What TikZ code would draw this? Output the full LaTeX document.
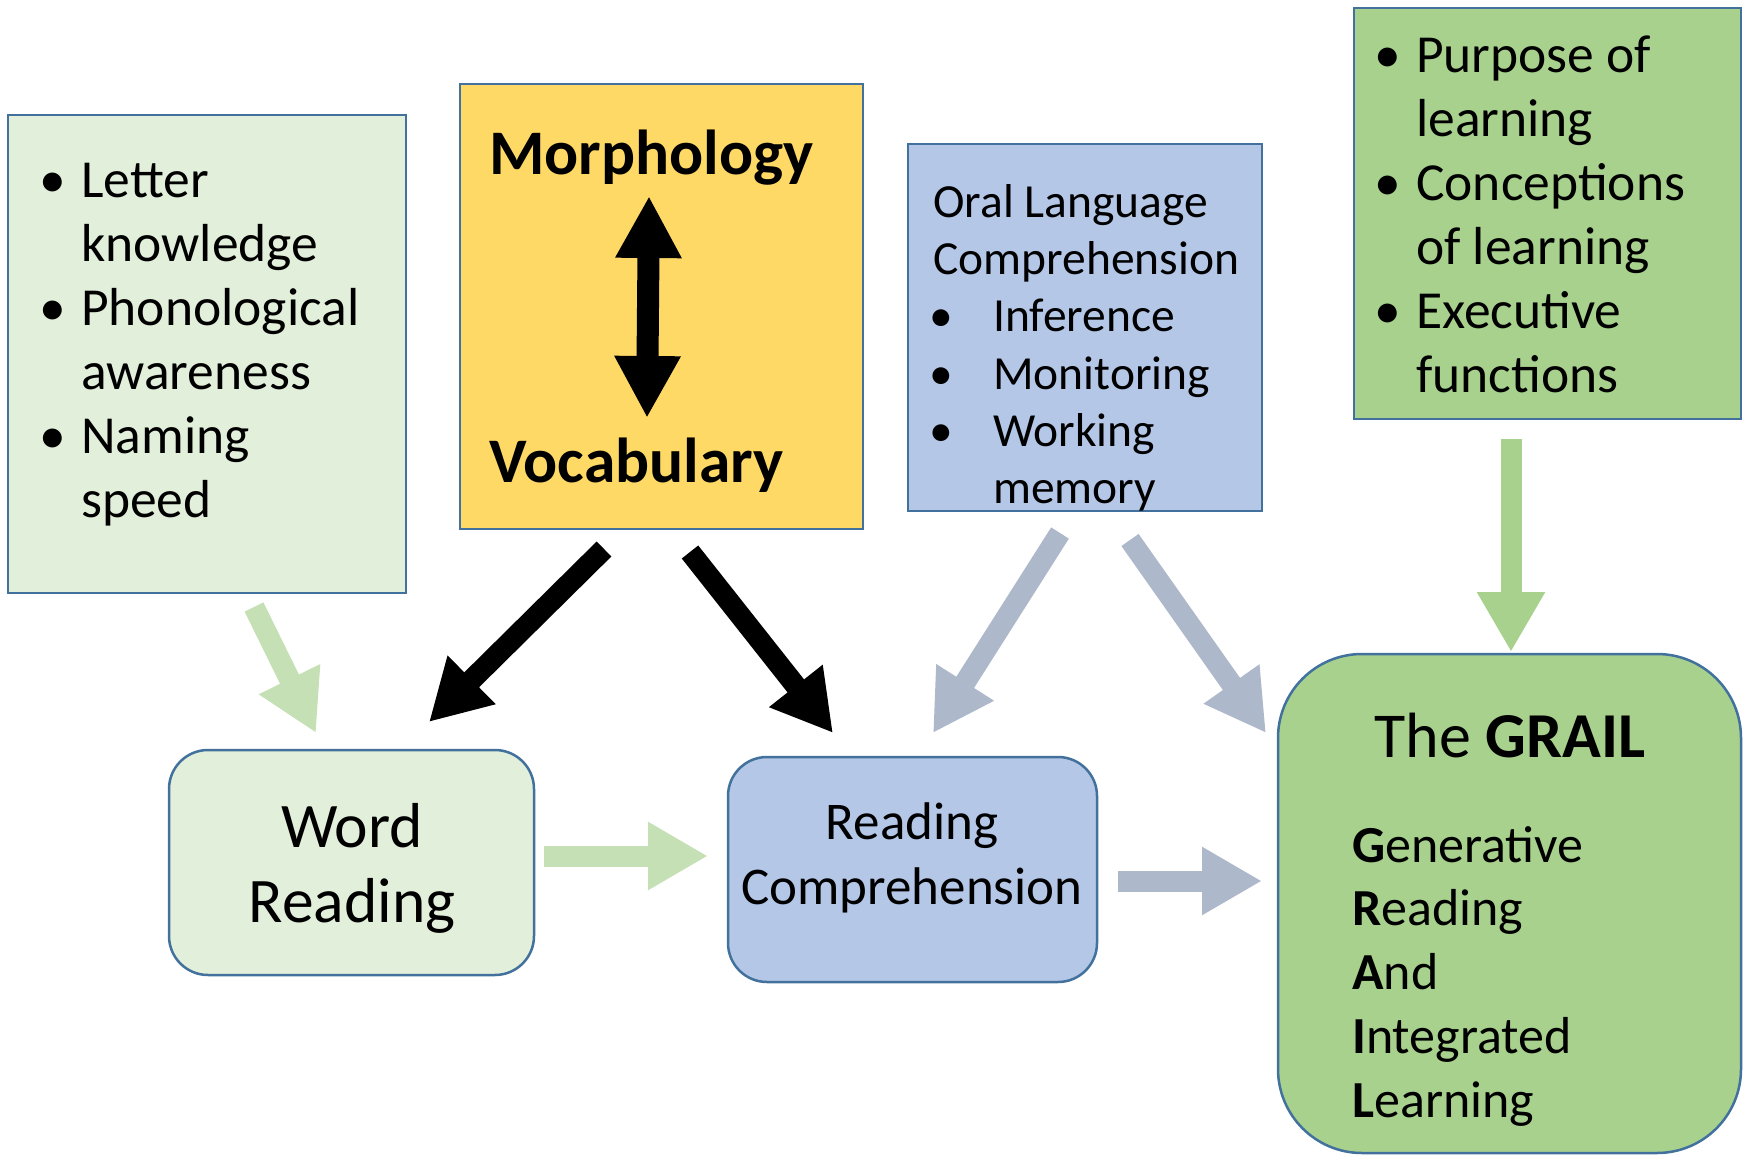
\documentclass[tikz,border=0pt]{standalone}
\usepackage{fontspec}
\setmainfont{Carlito}
\usetikzlibrary{arrows.meta}
\definecolor{bord}{HTML}{41719C}
\definecolor{lgreen}{HTML}{E2EFDA}
\definecolor{yell}{HTML}{FFD966}
\definecolor{lblue}{HTML}{B4C7E7}
\definecolor{mgreen}{HTML}{A9D18E}
\definecolor{agreen}{HTML}{C5E0B4}
\definecolor{agray}{HTML}{ADB9CA}
\begin{document}
\begin{tikzpicture}[x=1pt,y=-1pt,
  box/.style={draw=bord, line width=2.5pt, anchor=north west, inner sep=0pt, outer sep=0pt},
  rbox/.style={box, rounded corners=39pt},
  tl/.style={anchor=base west, inner sep=0pt},
  tc/.style={anchor=base, inner sep=0pt},
  fA/.style={font=\fontsize{53.5pt}{64pt}\selectfont},
  fB/.style={font=\fontsize{63.5pt}{76pt}\selectfont\bfseries},
  fC/.style={font=\fontsize{47.5pt}{57pt}\selectfont},
  fWR/.style={font=\fontsize{63.5pt}{76pt}\selectfont},
  fRC/.style={font=\fontsize{53pt}{64pt}\selectfont},
  fG/.style={font=\fontsize{64pt}{76pt}\selectfont},
  fGa/.style={font=\fontsize{52pt}{64pt}\selectfont},
  blk/.style={line width=21pt, -{Triangle[length=60pt,width=64pt]}},
  blkd/.style={line width=22pt, {Triangle[length=62pt,width=62pt]}-{Triangle[length=62pt,width=62pt]}}
]
\useasboundingbox (0,0) rectangle (1750,1155);

% boxes
\node[box, fill=lgreen, minimum width=398pt, minimum height=478pt] (b1) at (8,115) {};
\node[box, fill=yell, minimum width=403pt, minimum height=445pt] (b2) at (460,84) {};
\node[box, fill=lblue, minimum width=354pt, minimum height=367pt] (b3) at (908,144) {};
\node[box, fill=mgreen, minimum width=387pt, minimum height=411pt] (b4) at (1354,8) {};
\node[rbox, fill=lgreen, minimum width=365pt, minimum height=225pt] (wr) at (169,750) {};
\node[rbox, fill=lblue, minimum width=369pt, minimum height=225pt] (rc) at (728,757) {};
\node[box, rounded corners=84pt, fill=mgreen, minimum width=463pt, minimum height=499pt] (gr) at (1278,654) {};

% box 1 text
\foreach \t [count=\i from 0] in {Letter, knowledge, Phonological, awareness, Naming, speed}
  \node[tl, fA] (b1t\i) at (81,{198+63.8*\i}) {\t};
\foreach \i in {0,2,4}
  \node[tc, fA] (b1b\i) at (53,{198+63.8*\i}) {\textbullet};

% box 2 text
\node[tl, fB] (morph) at (489,175) {Morphology};
\node[tl, fB] (vocab) at (489,482) {Vocabulary};
\coordinate (dtop) at (649,196);
\coordinate (dbot) at (647,418);
\draw[blkd, black] (dbot) -- (dtop);

% box 3 text
\node[tl, fC] (b3t0) at (933,218) {Oral Language};
\node[tl, fC] (b3t1) at (933,275) {Comprehension};
\foreach \t [count=\i from 2] in {Inference, Monitoring, Working, memory}
  \node[tl, fC] (b3t\i) at (993,{218+57*\i}) {\t};
\foreach \i in {2,3,4}
  \node[tc, fC] (b3b\i) at (941,{218+57*\i}) {\textbullet};

% box 4 text
\foreach \t [count=\i from 0] in {Purpose of, learning, Conceptions, of learning, Executive, functions}
  \node[tl, fA] (b4t\i) at (1416,{73+63.8*\i}) {\t};
\foreach \i in {0,2,4}
  \node[tc, fA] (b4b\i) at (1388,{73+63.8*\i}) {\textbullet};

% word reading
\node[tc, fWR] (wr1) at (352,847) {Word};
\node[tc, fWR] (wr2) at (352,922) {Reading};
% reading comprehension
\node[tc, fRC] (rc1) at (912,839) {Reading};
\node[tc, fRC] (rc2) at (912,904) {Comprehension};
% grail
\node[tc, fG] (g0) at (1510,757) {The \textbf{GRAIL}};
\foreach \t [count=\i from 0] in {\textbf{G}enerative, \textbf{R}eading, \textbf{A}nd, \textbf{I}ntegrated, \textbf{L}earning}
  \node[tl, fGa] (g\i a) at (1352,{862+63.8*\i}) {\t};

% arrow end points
\coordinate (a1s) at (254,607);  \coordinate (a1e) at (316,733);
\coordinate (a2s) at (544,856);  \coordinate (a2e) at (708,856);
\coordinate (a3s) at (604,549);  \coordinate (a3e) at (429,722);
\coordinate (a4s) at (690,552);  \coordinate (a4e) at (833,733);
\coordinate (a5s) at (1060,533); \coordinate (a5e) at (933,733);
\coordinate (a6s) at (1130,540); \coordinate (a6e) at (1266,733);
\coordinate (a7s) at (1118,881); \coordinate (a7e) at (1262,881);
\coordinate (a8s) at (1511,439); \coordinate (a8e) at (1511,652);

\draw[blk, agreen] (a1s) -- (a1e);
\draw[blk, agreen] (a2s) -- (a2e);
\draw[blk, black] (a3s) -- (a3e);
\draw[blk, black] (a4s) -- (a4e);
\draw[blk, agray] (a5s) -- (a5e);
\draw[blk, agray] (a6s) -- (a6e);
\draw[blk, agray] (a7s) -- (a7e);
\draw[blk, mgreen] (a8s) -- (a8e);
\end{tikzpicture}
\end{document}
